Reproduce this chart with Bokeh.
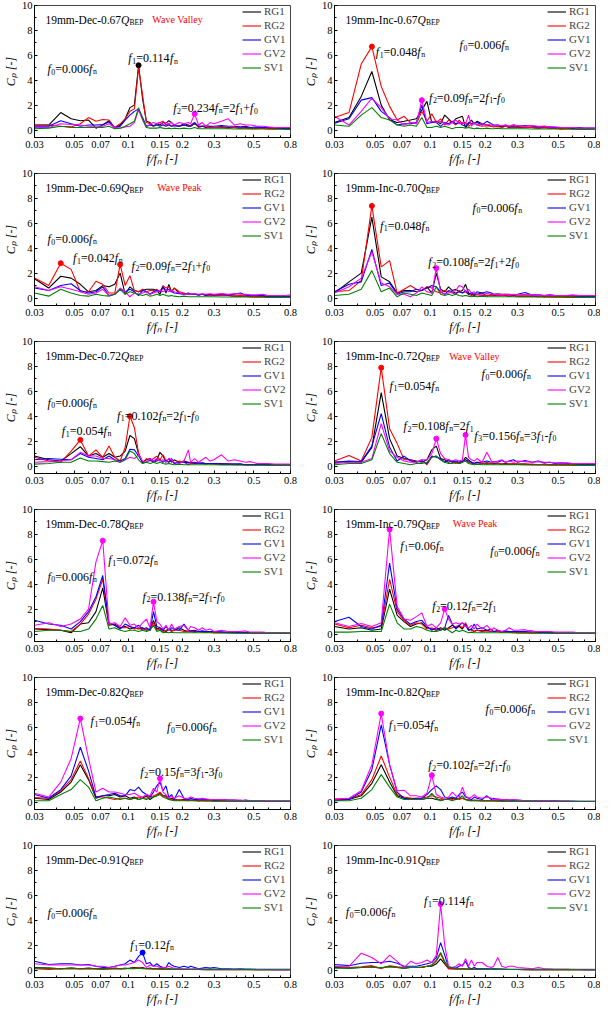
import math

from bokeh.embed import file_html
from bokeh.layouts import gridplot
from bokeh.models import FixedTicker, Label
from bokeh.plotting import figure
from bokeh.resources import INLINE

# frequency grid f/fn (multiples of f0 = 0.006 fn at the low end, coarser in the tail)
FREQ = [0.030, 0.036, 0.042, 0.048, 0.054, 0.060, 0.066,
        0.072, 0.078, 0.084, 0.090, 0.096, 0.102, 0.108,
        0.114, 0.120, 0.126, 0.132, 0.138, 0.144, 0.150,
        0.156, 0.162, 0.168, 0.174, 0.180, 0.192, 0.204,
        0.216, 0.222, 0.234, 0.246, 0.258, 0.270, 0.285,
        0.300, 0.330, 0.360, 0.390, 0.420, 0.450, 0.480,
        0.520, 0.560, 0.600, 0.650, 0.700, 0.750, 0.800]

X_TICKS = [0.03, 0.05, 0.07, 0.1, 0.15, 0.2, 0.3, 0.5, 0.8]
X_TICK_LABELS = ["0.03", "0.05", "0.07", "0.1", "0.15", "0.2", "0.3", "0.5", "0.8"]
X_MINOR = [0.04, 0.06, 0.08, 0.09, 0.125, 0.175, 0.25, 0.35, 0.4, 0.45, 0.6, 0.7]
Y_TICKS = [0, 2, 4, 6, 8, 10]
Y_MINOR = [1, 3, 5, 7, 9]
X_TITLE = "f/f\u2099 [-]"
Y_TITLE = "C\u209a [-]"

PROBES = ["RG1", "RG2", "GV1", "GV2", "SV1"]
COLORS = {"RG1": "#000000", "RG2": "#ff0000", "GV1": "#0000ff", "GV2": "#ff00ff", "SV1": "#008000"}

# 19mm-Dec-0.67
DEC067_RG1 = [0.4, 0.4, 1.4, 0.9, 0.75, 0.8, 0.15,  0.4, 0.75, 0.15, 0.4, 0.9, 1.8, 2.0,  5.2, 2.5, 0.7, 0.6, 0.3, 0.5, 0.4,  0.6, 0.55, 0.75, 0.6, 0.4, 0.3, 0.5,  0.4, 0.3, 0.5, 0.3, 0.3, 0.2, 0.25,  0.2, 0.25, 0.2, 0.2, 0.15, 0.2, 0.15,  0.15, 0.2, 0.15, 0.1, 0.15, 0.1, 0.1]
DEC067_RG2 = [0.4, 0.4, 0.3, 0.25, 0.5, 1.0, 0.7,  0.85, 0.8, 0.2, 0.5, 0.9, 1.5, 1.7,  5.0, 2.8, 0.6, 0.5, 0.3, 0.5, 0.6,  0.7, 0.4, 0.5, 0.3, 0.4, 0.3, 0.4,  0.3, 0.3, 0.6, 0.2, 0.3, 0.25, 0.2,  0.2, 0.2, 0.15, 0.2, 0.15, 0.15, 0.1,  0.1, 0.15, 0.1, 0.1, 0.1, 0.1, 0.1]
DEC067_GV1 = [0.3, 0.3, 0.75, 0.5, 0.3, 0.4, 0.4,  0.45, 0.65, 0.2, 0.3, 0.8, 1.2, 1.5,  1.7, 1.0, 0.3, 0.4, 0.35, 0.4, 0.3,  0.4, 0.3, 0.4, 0.3, 0.35, 0.3, 0.4,  0.3, 0.35, 0.6, 0.3, 0.3, 0.35, 0.3,  0.3, 0.35, 0.3, 0.3, 0.25, 0.3, 0.2,  0.25, 0.2, 0.2, 0.2, 0.15, 0.15, 0.15]
DEC067_GV2 = [0.2, 0.2, 0.5, 0.45, 0.4, 0.3, 0.3,  0.3, 0.5, 0.2, 0.15, 0.25, 0.3, 0.6,  1.6, 0.8, 0.2, 0.5, 0.6, 0.5, 0.6,  0.4, 0.6, 0.5, 0.6, 0.4, 0.6, 0.5,  0.6, 0.5, 1.3, 0.4, 0.6, 0.3, 0.6,  0.5, 0.7, 0.9, 0.4, 0.5, 0.4, 0.4,  0.3, 0.3, 0.25, 0.2, 0.2, 0.2, 0.2]
DEC067_SV1 = [0.1, 0.15, 0.3, 0.2, 0.2, 0.2, 0.2,  0.2, 0.3, 0.1, 0.15, 0.3, 0.5, 0.7,  1.8, 0.9, 0.2, 0.15, 0.15, 0.15, 0.2,  0.15, 0.1, 0.15, 0.1, 0.15, 0.1, 0.15,  0.1, 0.1, 0.2, 0.1, 0.1, 0.1, 0.1,  0.1, 0.1, 0.1, 0.08, 0.08, 0.08, 0.08,  0.08, 0.08, 0.06, 0.06, 0.06, 0.05, 0.05]

# 19mm-Inc-0.67
INC067_RG1 = [0.6, 1.0, 2.7, 4.7, 2.0, 0.8, 0.6,  0.7, 0.8, 0.9, 1.6, 2.3, 0.6, 0.7,  0.5, 1.2, 0.9, 0.6, 0.9, 1.0, 1.1,  0.2, 0.5, 0.8, 0.5, 0.7, 0.5, 0.4,  0.3, 0.3, 0.3, 0.25, 0.3, 0.2, 0.25,  0.2, 0.2, 0.2, 0.15, 0.2, 0.15, 0.15,  0.1, 0.15, 0.1, 0.1, 0.1, 0.1, 0.1]
INC067_RG2 = [1.0, 1.4, 5.3, 6.7, 3.5, 1.9, 0.8,  1.1, 0.6, 0.5, 1.5, 0.7, 1.3, 0.6,  0.9, 0.4, 0.8, 0.6, 0.4, 0.8, 0.5,  0.6, 0.3, 0.5, 0.6, 0.4, 0.3, 0.35,  0.3, 0.25, 0.3, 0.2, 0.3, 0.25, 0.2,  0.25, 0.2, 0.2, 0.15, 0.2, 0.15, 0.15,  0.1, 0.15, 0.1, 0.1, 0.1, 0.1, 0.1]
INC067_GV1 = [0.55, 0.9, 2.4, 2.6, 1.5, 1.0, 0.4,  0.5, 0.5, 0.6, 2.0, 0.5, 0.6, 0.6,  0.3, 0.6, 0.5, 0.7, 0.5, 0.6, 0.4,  0.3, 0.6, 0.5, 0.5, 0.6, 0.4, 0.7,  0.5, 0.4, 0.4, 0.3, 0.4, 0.3, 0.35,  0.3, 0.35, 0.3, 0.25, 0.3, 0.25, 0.2,  0.2, 0.2, 0.15, 0.2, 0.15, 0.15, 0.15]
INC067_GV2 = [1.1, 0.4, 1.5, 2.55, 1.8, 0.9, 0.8,  0.4, 0.6, 0.5, 2.4, 0.6, 0.7, 0.6,  0.7, 0.5, 0.4, 0.6, 0.8, 0.5, 0.6,  0.5, 1.2, 0.3, 0.6, 0.4, 0.5, 0.4,  0.5, 0.3, 0.4, 0.35, 0.4, 0.3, 0.45,  0.35, 0.3, 0.35, 0.3, 0.3, 0.25, 0.25,  0.2, 0.2, 0.2, 0.15, 0.15, 0.15, 0.15]
INC067_SV1 = [0.4, 0.3, 1.2, 1.8, 1.0, 0.8, 0.4,  0.3, 0.4, 0.3, 1.0, 0.2, 0.2, 0.3,  0.2, 0.3, 0.2, 0.1, 0.2, 0.2, 0.2,  0.15, 0.2, 0.15, 0.1, 0.15, 0.1, 0.15,  0.1, 0.1, 0.15, 0.1, 0.1, 0.1, 0.1,  0.1, 0.1, 0.08, 0.08, 0.08, 0.08, 0.08,  0.06, 0.06, 0.06, 0.05, 0.05, 0.05, 0.05]

# 19mm-Dec-0.69
DEC069_RG1 = [1.55, 0.8, 1.75, 1.6, 1.1, 0.5, 0.6,  1.0, 0.9, 1.1, 2.0, 0.3, 0.9, 0.6,  0.5, 0.6, 0.7, 0.7, 0.7, 0.6, 0.3,  0.9, 0.4, 1.1, 0.5, 0.8, 0.4, 0.3,  0.4, 0.3, 0.3, 0.25, 0.3, 0.2, 0.25,  0.2, 0.2, 0.2, 0.15, 0.15, 0.15, 0.15,  0.1, 0.15, 0.1, 0.1, 0.1, 0.1, 0.1]
DEC069_RG2 = [1.6, 1.0, 2.8, 2.3, 0.5, 0.5, 1.35,  1.1, 0.4, 0.4, 2.7, 1.0, 1.8, 0.6,  0.5, 0.7, 0.5, 0.6, 0.6, 0.7, 0.5,  1.0, 0.8, 0.9, 0.5, 0.8, 0.5, 0.4,  0.3, 0.3, 0.35, 0.25, 0.3, 0.25, 0.2,  0.2, 0.2, 0.2, 0.15, 0.2, 0.15, 0.15,  0.1, 0.1, 0.1, 0.1, 0.1, 0.1, 0.1]
DEC069_GV1 = [0.8, 0.6, 1.0, 1.15, 0.6, 0.4, 0.5,  0.9, 0.2, 0.3, 0.7, 0.5, 0.7, 0.5,  0.2, 0.6, 0.5, 0.3, 0.5, 0.6, 0.5,  0.9, 0.6, 0.7, 0.5, 0.4, 0.35, 0.3,  0.35, 0.3, 0.3, 0.25, 0.3, 0.25, 0.3,  0.25, 0.3, 0.25, 0.3, 0.4, 0.25, 0.2,  0.2, 0.2, 0.15, 0.15, 0.15, 0.15, 0.15]
DEC069_GV2 = [0.9, 0.6, 0.9, 0.7, 0.5, 0.3, 0.4,  0.7, 0.2, 0.3, 0.8, 0.5, 0.1, 0.4,  0.3, 0.4, 0.5, 0.3, 0.4, 0.5, 0.6,  0.5, 0.7, 0.5, 0.6, 0.5, 0.4, 0.3,  0.35, 0.3, 0.35, 0.3, 0.35, 0.3, 0.35,  0.3, 0.35, 0.3, 0.35, 0.3, 0.3, 0.25,  0.25, 0.3, 0.2, 0.2, 0.2, 0.2, 0.25]
DEC069_SV1 = [0.4, 0.15, 0.7, 0.4, 0.2, 0.15, 0.3,  0.2, 0.15, 0.3, 0.7, 0.3, 0.5, 0.4,  0.3, 0.2, 0.3, 0.15, 0.2, 0.3, 0.2,  0.3, 0.2, 0.15, 0.2, 0.15, 0.1, 0.15,  0.1, 0.1, 0.1, 0.1, 0.1, 0.1, 0.1,  0.1, 0.08, 0.08, 0.08, 0.08, 0.08, 0.06,  0.06, 0.06, 0.05, 0.05, 0.05, 0.05, 0.05]

# 19mm-Inc-0.70
INC070_RG1 = [0.4, 1.3, 2.0, 6.5, 1.7, 1.3, 0.4,  0.6, 0.6, 0.5, 0.6, 0.9, 0.4, 2.0,  0.7, 0.5, 0.9, 0.6, 0.7, 0.5, 0.6,  1.1, 0.4, 0.3, 0.2, 0.3, 0.4, 0.15,  0.3, 0.2, 0.2, 0.2, 0.2, 0.15, 0.2,  0.15, 0.15, 0.15, 0.1, 0.15, 0.1, 0.1,  0.1, 0.1, 0.1, 0.1, 0.1, 0.08, 0.08]
INC070_RG2 = [0.5, 0.6, 1.4, 7.4, 2.5, 3.0, 0.4,  0.7, 1.0, 0.7, 0.6, 0.9, 0.8, 0.5,  0.4, 0.6, 0.5, 0.4, 0.3, 0.6, 0.4,  0.5, 0.3, 0.2, 0.3, 0.25, 0.2, 0.2,  0.2, 0.25, 0.2, 0.2, 0.2, 0.15, 0.2,  0.15, 0.15, 0.15, 0.15, 0.1, 0.15, 0.1,  0.1, 0.1, 0.1, 0.1, 0.1, 0.1, 0.1]
INC070_GV1 = [0.5, 1.1, 1.3, 3.9, 1.0, 1.2, 0.3,  0.5, 0.5, 0.7, 0.6, 0.8, 1.0, 0.9,  0.5, 0.3, 0.6, 0.5, 0.4, 0.5, 0.4,  0.6, 0.3, 0.4, 0.3, 0.5, 0.4, 0.5,  0.4, 0.3, 0.35, 0.3, 0.3, 0.3, 0.25,  0.3, 0.45, 0.25, 0.25, 0.2, 0.25, 0.2,  0.2, 0.2, 0.2, 0.15, 0.15, 0.15, 0.15]
INC070_GV2 = [0.4, 0.9, 1.6, 3.7, 1.2, 0.9, 0.3,  0.3, 0.1, 0.4, 0.9, 0.5, 0.4, 2.4,  0.5, 0.3, 0.4, 0.5, 0.6, 1.0, 0.9,  0.5, 0.7, 0.4, 0.5, 0.3, 0.3, 0.35,  0.3, 0.3, 0.3, 0.25, 0.3, 0.25, 0.3,  0.25, 0.3, 0.25, 0.25, 0.2, 0.25, 0.2,  0.2, 0.2, 0.25, 0.2, 0.2, 0.2, 0.2]
INC070_SV1 = [0.2, 0.3, 0.7, 2.2, 0.5, 0.8, 0.1,  0.4, 0.3, 0.2, 0.4, 0.3, 0.2, 0.9,  0.3, 0.2, 0.3, 0.2, 0.3, 0.2, 0.15,  0.2, 0.15, 0.1, 0.15, 0.1, 0.15, 0.1,  0.1, 0.1, 0.1, 0.1, 0.1, 0.1, 0.1,  0.08, 0.08, 0.08, 0.08, 0.06, 0.06, 0.06,  0.06, 0.05, 0.05, 0.05, 0.05, 0.05, 0.05]

# 19mm-Dec-0.72
DEC072_RG1 = [0.8, 0.5, 0.4, 1.0, 1.55, 0.8, 1.0,  0.7, 1.0, 0.7, 0.8, 1.2, 2.45, 2.2,  1.0, 0.3, 0.5, 0.6, 0.4, 0.5, 1.1,  0.8, 0.3, 0.6, 0.3, 0.5, 0.3, 0.4,  0.3, 0.25, 0.3, 0.2, 0.25, 0.2, 0.2,  0.2, 0.2, 0.15, 0.15, 0.15, 0.1, 0.1,  0.1, 0.1, 0.1, 0.1, 0.1, 0.1, 0.1]
DEC072_RG2 = [0.7, 0.4, 0.3, 1.2, 2.1, 0.8, 1.3,  0.7, 1.6, 0.7, 0.4, 1.5, 4.0, 3.1,  1.0, 0.2, 0.6, 0.4, 0.6, 0.8, 0.5,  0.9, 0.4, 0.3, 0.5, 0.2, 0.4, 0.3,  0.1, 0.2, 0.25, 0.2, 0.2, 0.15, 0.2,  0.15, 0.15, 0.15, 0.1, 0.1, 0.1, 0.1,  0.1, 0.1, 0.1, 0.1, 0.08, 0.08, 0.08]
DEC072_GV1 = [0.5, 0.6, 0.55, 0.5, 1.0, 0.7, 0.6,  0.5, 0.8, 0.5, 0.4, 0.6, 1.35, 1.3,  0.8, 0.3, 0.3, 0.5, 0.3, 0.4, 0.5,  0.3, 0.5, 0.3, 0.6, 0.2, 0.3, 0.3,  0.25, 0.3, 0.2, 0.25, 0.2, 0.2, 0.2,  0.2, 0.15, 0.15, 0.15, 0.15, 0.1, 0.1,  0.1, 0.1, 0.1, 0.1, 0.1, 0.1, 0.1]
DEC072_GV2 = [0.3, 0.35, 0.4, 0.5, 1.1, 0.8, 0.8,  0.6, 0.6, 0.5, 0.3, 0.5, 0.7, 0.6,  0.9, 0.4, 0.3, 0.6, 0.4, 0.6, 0.4,  0.5, 0.3, 0.6, 0.5, 0.3, 0.2, 0.4,  1.3, 0.3, 0.6, 0.3, 0.5, 0.7, 0.4,  0.5, 0.9, 0.4, 0.5, 0.4, 0.3, 0.35,  0.2, 0.2, 0.2, 0.15, 0.15, 0.15, 0.15]
DEC072_SV1 = [0.15, 0.2, 0.3, 0.3, 0.65, 0.4, 0.4,  0.35, 0.3, 0.4, 0.3, 0.5, 1.2, 1.0,  0.5, 0.2, 0.3, 0.2, 0.3, 0.2, 0.3,  0.2, 0.15, 0.2, 0.15, 0.1, 0.15, 0.1,  0.1, 0.1, 0.1, 0.1, 0.1, 0.1, 0.1,  0.1, 0.08, 0.08, 0.08, 0.08, 0.06, 0.06,  0.06, 0.06, 0.05, 0.05, 0.05, 0.05, 0.05]

# 19mm-Inc-0.72
INC072_RG1 = [0.3, 0.35, 0.3, 1.5, 5.9, 2.2, 0.8,  0.6, 0.5, 0.4, 0.3, 0.5, 1.3, 1.6,  0.6, 0.5, 0.3, 0.4, 0.3, 0.2, 0.3,  0.7, 0.5, 0.3, 0.2, 0.3, 0.2, 0.25,  0.2, 0.2, 0.2, 0.15, 0.2, 0.15, 0.15,  0.15, 0.15, 0.1, 0.1, 0.1, 0.1, 0.1,  0.1, 0.1, 0.1, 0.08, 0.08, 0.08, 0.08]
INC072_RG2 = [0.4, 0.85, 0.4, 2.3, 7.9, 3.0, 1.8,  0.5, 0.5, 0.3, 0.5, 0.1, 0.7, 0.8,  0.5, 0.3, 0.5, 0.3, 0.2, 0.3, 0.4,  0.5, 0.3, 0.2, 0.2, 0.15, 0.2, 0.15,  0.2, 0.15, 0.2, 0.15, 0.15, 0.15, 0.2,  0.15, 0.15, 0.15, 0.1, 0.15, 0.1, 0.1,  0.1, 0.1, 0.1, 0.1, 0.1, 0.1, 0.1]
INC072_GV1 = [0.3, 0.4, 0.35, 1.6, 4.2, 1.5, 0.4,  0.8, 0.4, 0.3, 0.4, 0.2, 0.8, 0.7,  0.6, 0.3, 0.5, 0.3, 0.4, 0.3, 0.4,  0.5, 0.4, 0.3, 0.2, 0.3, 0.3, 0.4,  0.3, 0.35, 0.3, 0.45, 0.3, 0.4, 0.5,  0.3, 0.45, 0.3, 0.4, 0.25, 0.3, 0.2,  0.25, 0.2, 0.2, 0.15, 0.15, 0.15, 0.15]
INC072_GV2 = [0.2, 0.3, 0.3, 0.6, 3.4, 1.2, 0.7,  0.4, 0.3, 0.3, 0.5, 0.5, 1.0, 2.2,  1.0, 0.6, 0.5, 0.4, 0.5, 0.4, 0.5,  2.5, 0.7, 0.5, 0.4, 0.6, 0.3, 1.1,  0.4, 0.3, 0.4, 0.5, 0.3, 0.4, 0.3,  0.4, 0.35, 0.3, 0.35, 0.3, 0.3, 0.25,  0.25, 0.25, 0.2, 0.2, 0.2, 0.2, 0.2]
INC072_SV1 = [0.1, 0.2, 0.2, 0.5, 2.6, 1.0, 0.3,  0.2, 0.1, 0.2, 0.2, 0.3, 0.7, 0.8,  0.5, 0.3, 0.2, 0.2, 0.3, 0.2, 0.3,  0.4, 0.2, 0.15, 0.1, 0.15, 0.1, 0.1,  0.1, 0.1, 0.1, 0.1, 0.1, 0.1, 0.1,  0.1, 0.08, 0.08, 0.08, 0.08, 0.06, 0.06,  0.06, 0.06, 0.05, 0.05, 0.05, 0.05, 0.05]

# 19mm-Dec-0.78
DEC078_RG1 = [0.4, 0.35, 0.3, 0.1, 0.8, 0.9, 1.8,  3.7, 0.7, 0.8, 0.5, 0.6, 0.4, 0.5,  0.4, 0.5, 0.3, 0.4, 1.1, 0.4, 0.5,  0.3, 0.2, 0.4, 0.3, 0.3, 0.5, 0.3,  0.2, 0.25, 0.2, 0.2, 0.2, 0.15, 0.2,  0.15, 0.15, 0.1, 0.1, 0.1, 0.1, 0.1,  0.08, 0.08, 0.08, 0.08, 0.08, 0.05, 0.05]
DEC078_RG2 = [0.45, 0.4, 0.3, 0.2, 0.8, 1.6, 2.8,  4.4, 0.8, 0.7, 0.5, 0.5, 0.6, 0.4,  0.5, 0.3, 0.4, 0.3, 0.9, 0.3, 0.4,  0.2, 0.3, 0.4, 0.2, 0.3, 0.3, 0.2,  0.2, 0.2, 0.15, 0.2, 0.15, 0.15, 0.15,  0.1, 0.1, 0.1, 0.1, 0.1, 0.08, 0.08,  0.08, 0.08, 0.05, 0.05, 0.05, 0.05, 0.05]
DEC078_GV1 = [1.1, 0.8, 0.7, 0.4, 1.0, 1.8, 3.0,  4.7, 0.9, 0.7, 0.4, 0.8, 0.6, 0.5,  0.7, 0.4, 0.5, 0.3, 1.8, 0.6, 0.5,  0.3, 0.6, 0.3, 0.5, 0.4, 0.3, 0.8,  0.3, 0.25, 0.3, 0.2, 0.25, 0.2, 0.2,  0.2, 0.15, 0.15, 0.15, 0.1, 0.1, 0.1,  0.1, 0.1, 0.08, 0.08, 0.08, 0.08, 0.08]
DEC078_GV2 = [0.7, 0.9, 0.6, 0.8, 1.2, 2.0, 5.8,  7.5, 0.8, 0.9, 0.6, 1.3, 0.7, 0.8,  0.5, 0.9, 1.2, 0.5, 2.6, 1.0, 0.8,  0.4, 0.7, 0.3, 0.8, 0.4, 0.6, 0.7,  0.3, 0.6, 0.5, 0.3, 0.5, 0.3, 0.4,  0.2, 0.3, 0.2, 0.2, 0.2, 0.25, 0.15,  0.15, 0.15, 0.1, 0.1, 0.1, 0.1, 0.1]
DEC078_SV1 = [0.2, 0.3, 0.3, 0.2, 0.2, 0.4, 1.2,  2.3, 0.4, 0.5, 0.3, 0.2, 0.3, 0.3,  0.2, 0.3, 0.2, 0.3, 0.7, 0.2, 0.3,  0.1, 0.15, 0.1, 0.15, 0.1, 0.1, 0.1,  0.1, 0.1, 0.1, 0.1, 0.1, 0.1, 0.1,  0.08, 0.08, 0.08, 0.06, 0.06, 0.06, 0.06,  0.05, 0.05, 0.05, 0.05, 0.05, 0.05, 0.05]

# 19mm-Inc-0.79
INC079_RG1 = [0.6, 0.4, 0.5, 0.3, 0.4, 3.6, 1.5,  1.0, 0.6, 0.8, 0.9, 0.5, 0.4, 0.3,  0.5, 0.3, 0.5, 0.7, 0.5, 0.6, 0.4,  0.8, 0.3, 0.4, 0.2, 0.3, 0.25, 0.3,  0.2, 0.2, 0.2, 0.15, 0.2, 0.15, 0.15,  0.1, 0.1, 0.1, 0.1, 0.1, 0.08, 0.08,  0.08, 0.08, 0.05, 0.05, 0.05, 0.05, 0.05]
INC079_RG2 = [0.8, 0.5, 0.7, 0.5, 0.6, 4.4, 1.8,  1.1, 0.7, 0.9, 0.8, 0.4, 0.5, 0.3,  0.4, 0.5, 0.4, 0.5, 0.6, 0.7, 0.5,  0.9, 0.4, 0.3, 0.2, 0.3, 0.2, 0.25,  0.2, 0.2, 0.2, 0.15, 0.15, 0.15, 0.15,  0.1, 0.1, 0.1, 0.1, 0.1, 0.08, 0.08,  0.08, 0.08, 0.05, 0.05, 0.05, 0.05, 0.05]
INC079_GV1 = [1.0, 1.35, 0.6, 0.4, 0.7, 5.7, 2.0,  1.2, 0.8, 1.0, 1.1, 0.6, 0.3, 0.5,  0.3, 0.5, 1.5, 0.8, 0.4, 0.7, 0.9,  0.7, 0.3, 0.4, 0.8, 0.4, 0.5, 0.3,  0.4, 0.2, 0.3, 0.2, 0.25, 0.2, 0.2,  0.2, 0.2, 0.25, 0.15, 0.15, 0.15, 0.1,  0.1, 0.1, 0.1, 0.08, 0.08, 0.08, 0.08]
INC079_GV2 = [0.9, 0.6, 0.85, 0.6, 0.9, 8.4, 2.2,  1.2, 1.1, 1.4, 1.7, 0.6, 0.8, 0.5,  0.9, 2.0, 1.2, 0.8, 0.9, 0.8, 0.9,  0.6, 0.5, 0.7, 0.4, 0.8, 0.4, 0.7,  0.3, 0.5, 0.3, 0.2, 0.3, 0.5, 0.3,  0.3, 0.35, 0.2, 0.2, 0.2, 0.2, 0.15,  0.15, 0.15, 0.15, 0.1, 0.1, 0.1, 0.1]
INC079_SV1 = [0.15, 0.15, 0.2, 0.2, 0.2, 2.4, 0.9,  0.4, 0.4, 0.6, 0.5, 0.3, 0.2, 0.2,  0.3, 0.5, 0.3, 0.1, 0.3, 0.2, 0.3,  0.2, 0.1, 0.15, 0.1, 0.1, 0.1, 0.1,  0.1, 0.1, 0.1, 0.1, 0.1, 0.1, 0.08,  0.08, 0.08, 0.06, 0.06, 0.06, 0.06, 0.05,  0.05, 0.05, 0.05, 0.05, 0.05, 0.05, 0.05]

# 19mm-Dec-0.82
DEC082_RG1 = [0.3, 0.2, 0.8, 1.6, 3.0, 1.8, 0.3,  0.5, 0.5, 0.6, 0.4, 0.5, 0.3, 0.4,  0.2, 0.3, 0.5, 0.2, 0.4, 0.5, 0.7,  0.5, 0.5, 0.2, 0.3, 0.2, 0.15, 0.2,  0.15, 0.15, 0.15, 0.1, 0.15, 0.1, 0.1,  0.1, 0.1, 0.08, 0.08, 0.08, 0.06, 0.06,  0.05, 0.05, 0.05, 0.05, 0.05, 0.05, 0.05]
DEC082_RG2 = [0.35, 0.3, 0.9, 1.8, 3.3, 1.9, 0.4,  0.4, 0.3, 0.2, 0.3, 0.3, 0.2, 0.3,  0.4, 0.3, 0.3, 0.4, 0.5, 0.6, 0.8,  0.5, 0.4, 0.3, 0.2, 0.15, 0.15, 0.15,  0.1, 0.15, 0.1, 0.1, 0.1, 0.1, 0.1,  0.08, 0.08, 0.08, 0.06, 0.06, 0.06, 0.05,  0.05, 0.05, 0.05, 0.05, 0.05, 0.05, 0.05]
DEC082_GV1 = [0.6, 0.3, 1.0, 2.1, 4.4, 2.5, 0.4,  0.5, 0.6, 0.7, 0.5, 0.5, 1.0, 0.9,  1.2, 0.8, 0.6, 0.4, 0.8, 1.3, 1.6,  0.9, 1.3, 0.4, 0.6, 0.2, 1.0, 0.3,  0.2, 0.3, 0.2, 0.2, 0.25, 0.2, 0.2,  0.15, 0.2, 0.15, 0.15, 0.1, 0.15, 0.1,  0.1, 0.1, 0.08, 0.08, 0.08, 0.08, 0.08]
DEC082_GV2 = [0.7, 0.4, 1.6, 3.5, 6.7, 3.5, 0.8,  1.1, 0.8, 0.8, 0.7, 0.6, 0.6, 0.7,  0.5, 0.4, 0.6, 0.5, 1.1, 0.8, 1.9,  0.8, 0.6, 0.3, 0.5, 0.3, 0.5, 0.3,  0.3, 0.4, 0.3, 0.25, 0.3, 0.25, 0.2,  0.2, 0.2, 0.15, 0.15, 0.15, 0.1, 0.1,  0.1, 0.1, 0.1, 0.08, 0.08, 0.08, 0.08]
DEC082_SV1 = [0.1, 0.1, 0.6, 1.0, 1.8, 1.2, 0.1,  0.3, 0.4, 0.3, 0.2, 0.3, 0.2, 0.3,  0.2, 0.3, 0.2, 0.3, 0.4, 0.5, 0.6,  0.4, 0.3, 0.2, 0.15, 0.1, 0.1, 0.1,  0.1, 0.1, 0.1, 0.08, 0.08, 0.08, 0.08,  0.06, 0.06, 0.06, 0.05, 0.05, 0.05, 0.05,  0.05, 0.05, 0.04, 0.04, 0.04, 0.04, 0.04]

# 19mm-Inc-0.82
INC082_RG1 = [0.2, 0.2, 0.5, 1.5, 3.0, 1.6, 0.5,  0.3, 0.3, 0.2, 0.2, 0.3, 0.3, 0.2,  0.15, 0.2, 0.2, 0.3, 0.2, 0.3, 0.3,  0.2, 0.15, 0.1, 0.15, 0.1, 0.1, 0.1,  0.1, 0.1, 0.08, 0.08, 0.08, 0.08, 0.06,  0.06, 0.06, 0.05, 0.05, 0.05, 0.05, 0.05,  0.04, 0.04, 0.04, 0.04, 0.04, 0.04, 0.04]
INC082_RG2 = [0.2, 0.25, 0.6, 1.8, 3.7, 2.0, 0.6,  0.4, 0.3, 0.3, 0.3, 0.4, 0.5, 0.4,  0.3, 0.2, 0.3, 0.2, 0.3, 0.2, 0.3,  0.2, 0.15, 0.15, 0.1, 0.15, 0.1, 0.1,  0.1, 0.1, 0.1, 0.08, 0.08, 0.08, 0.08,  0.06, 0.06, 0.06, 0.05, 0.05, 0.05, 0.05,  0.05, 0.05, 0.04, 0.04, 0.04, 0.04, 0.04]
INC082_GV1 = [0.1, 0.2, 0.8, 2.6, 6.2, 3.0, 0.8,  0.3, 0.2, 0.3, 0.3, 0.6, 1.0, 1.3,  1.0, 0.4, 0.3, 0.4, 0.3, 0.6, 0.8,  0.4, 0.3, 0.2, 0.4, 0.3, 0.2, 0.5,  0.2, 0.3, 0.2, 0.15, 0.2, 0.15, 0.15,  0.15, 0.1, 0.1, 0.1, 0.1, 0.1, 0.1,  0.08, 0.08, 0.08, 0.06, 0.06, 0.06, 0.06]
INC082_GV2 = [0.25, 0.3, 0.9, 3.0, 7.1, 3.0, 0.9,  0.95, 0.5, 0.5, 0.4, 0.7, 2.15, 0.6,  0.4, 0.3, 0.4, 0.8, 0.5, 0.4, 1.2,  0.5, 0.3, 0.4, 0.6, 0.4, 0.3, 0.4,  0.3, 0.2, 0.25, 0.2, 0.2, 0.15, 0.2,  0.15, 0.1, 0.1, 0.1, 0.1, 0.1, 0.08,  0.08, 0.08, 0.06, 0.06, 0.06, 0.06, 0.06]
INC082_SV1 = [0.1, 0.1, 0.3, 1.0, 2.2, 1.2, 0.4,  0.2, 0.2, 0.2, 0.2, 0.3, 0.7, 0.3,  0.1, 0.2, 0.2, 0.1, 0.2, 0.3, 0.5,  0.2, 0.1, 0.1, 0.1, 0.1, 0.08, 0.08,  0.08, 0.08, 0.06, 0.06, 0.06, 0.06, 0.05,  0.05, 0.05, 0.05, 0.04, 0.04, 0.04, 0.04,  0.04, 0.04, 0.04, 0.04, 0.04, 0.04, 0.04]

# 19mm-Dec-0.91
DEC091_RG1 = [0.2, 0.15, 0.1, 0.15, 0.1, 0.15, 0.1,  0.1, 0.1, 0.15, 0.1, 0.1, 0.15, 0.2,  0.15, 0.2, 0.1, 0.15, 0.1, 0.1, 0.1,  0.1, 0.08, 0.1, 0.08, 0.08, 0.08, 0.06,  0.06, 0.06, 0.06, 0.05, 0.05, 0.05, 0.05,  0.05, 0.04, 0.04, 0.04, 0.04, 0.04, 0.04,  0.03, 0.03, 0.03, 0.03, 0.03, 0.03, 0.03]
DEC091_RG2 = [0.1, 0.05, 0.08, 0.1, 0.08, 0.1, 0.08,  0.05, 0.08, 0.1, 0.08, 0.1, 0.12, 0.15,  0.2, 0.15, 0.1, 0.1, 0.08, 0.08, 0.06,  0.06, 0.06, 0.05, 0.05, 0.05, 0.05, 0.04,  0.04, 0.04, 0.04, 0.04, 0.04, 0.03, 0.03,  0.03, 0.03, 0.03, 0.03, 0.03, 0.03, 0.03,  0.02, 0.02, 0.02, 0.02, 0.02, 0.02, 0.02]
DEC091_GV1 = [0.7, 0.45, 0.5, 0.5, 0.4, 0.45, 0.3,  0.2, 0.2, 0.3, 0.4, 0.5, 0.8, 0.6,  1.1, 1.4, 0.5, 0.6, 0.3, 0.5, 0.3,  0.2, 0.2, 0.6, 0.4, 0.3, 0.2, 0.3,  0.2, 0.3, 0.2, 0.1, 0.15, 0.2, 0.15,  0.2, 0.1, 0.1, 0.08, 0.1, 0.08, 0.08,  0.06, 0.06, 0.06, 0.05, 0.05, 0.05, 0.05]
DEC091_GV2 = [0.5, 0.4, 0.4, 0.4, 0.4, 0.4, 0.3,  0.3, 0.2, 0.3, 0.4, 0.4, 0.5, 0.6,  0.8, 0.6, 0.2, 0.4, 0.3, 0.3, 0.2,  0.2, 0.2, 0.3, 0.2, 0.15, 0.1, 0.1,  0.1, 0.08, 0.1, 0.08, 0.08, 0.06, 0.06,  0.06, 0.05, 0.05, 0.05, 0.05, 0.04, 0.04,  0.04, 0.04, 0.04, 0.03, 0.03, 0.03, 0.03]
DEC091_SV1 = [0.15, 0.15, 0.1, 0.15, 0.1, 0.1, 0.1,  0.05, 0.1, 0.1, 0.1, 0.15, 0.1, 0.1,  0.15, 0.1, 0.1, 0.08, 0.08, 0.08, 0.06,  0.06, 0.06, 0.05, 0.05, 0.05, 0.05, 0.04,  0.04, 0.04, 0.04, 0.04, 0.03, 0.03, 0.03,  0.03, 0.03, 0.03, 0.03, 0.03, 0.03, 0.03,  0.02, 0.02, 0.02, 0.02, 0.02, 0.02, 0.02]

# 19mm-Inc-0.91
INC091_RG1 = [0.2, 0.15, 0.2, 0.25, 0.15, 0.3, 0.2,  0.15, 0.2, 0.2, 0.2, 0.3, 0.3, 0.5,  0.9, 0.5, 0.1, 0.1, 0.08, 0.08, 0.08,  0.08, 0.06, 0.06, 0.06, 0.06, 0.05, 0.05,  0.05, 0.05, 0.05, 0.04, 0.04, 0.04, 0.04,  0.04, 0.03, 0.03, 0.03, 0.03, 0.03, 0.03,  0.03, 0.03, 0.02, 0.02, 0.02, 0.02, 0.02]
INC091_RG2 = [0.3, 0.2, 0.25, 0.35, 0.15, 0.35, 0.25,  0.2, 0.2, 0.2, 0.25, 0.3, 0.4, 0.7,  1.3, 0.6, 0.1, 0.08, 0.1, 0.08, 0.1,  0.08, 0.08, 0.06, 0.08, 0.06, 0.06, 0.05,  0.05, 0.05, 0.06, 0.05, 0.04, 0.04, 0.04,  0.04, 0.03, 0.03, 0.03, 0.03, 0.03, 0.03,  0.03, 0.03, 0.02, 0.02, 0.02, 0.02, 0.02]
INC091_GV1 = [0.45, 0.35, 0.55, 0.6, 0.6, 0.7, 0.55,  0.3, 0.3, 0.3, 0.4, 0.5, 0.6, 1.0,  2.2, 1.2, 0.2, 0.2, 0.15, 0.3, 0.4,  0.7, 0.2, 0.1, 0.2, 0.1, 0.1, 0.1,  0.08, 0.1, 0.08, 0.08, 0.08, 0.06, 0.06,  0.06, 0.05, 0.05, 0.05, 0.05, 0.04, 0.04,  0.04, 0.04, 0.04, 0.04, 0.03, 0.03, 0.03]
INC091_GV2 = [0.3, 0.3, 1.35, 1.0, 0.5, 1.2, 0.7,  0.2, 0.7, 0.5, 0.6, 0.8, 0.6, 1.2,  5.3, 2.0, 0.3, 0.2, 0.3, 0.5, 0.3,  0.9, 0.3, 0.8, 0.3, 0.6, 0.6, 0.3,  0.2, 0.3, 1.0, 0.3, 0.2, 0.3, 0.3,  0.2, 0.15, 0.1, 0.2, 0.1, 0.1, 0.08,  0.08, 0.08, 0.06, 0.06, 0.06, 0.05, 0.05]
INC091_SV1 = [0.15, 0.15, 0.2, 0.2, 0.2, 0.25, 0.2,  0.15, 0.2, 0.2, 0.2, 0.3, 0.4, 0.8,  1.4, 0.7, 0.2, 0.2, 0.1, 0.1, 0.1,  0.08, 0.08, 0.08, 0.06, 0.06, 0.06, 0.05,  0.05, 0.05, 0.05, 0.05, 0.04, 0.04, 0.04,  0.04, 0.04, 0.03, 0.03, 0.03, 0.03, 0.03,  0.03, 0.03, 0.03, 0.02, 0.02, 0.02, 0.02]

# title, series, wave note, frequency notes (text, x, y baseline), marked peaks
PANELS = [
    ("19mm-Dec-0.67Q_{BEP}", [DEC067_RG1, DEC067_RG2, DEC067_GV1, DEC067_GV2, DEC067_SV1],
     ("Wave Valley", 0.136, 8.85),
     [("f_0=0.006f_n", 0.0354, 4.9), ("f_1=0.114f_n", 0.1, 5.75), ("f_2=0.234f_n=2f_1+f_0", 0.1776, 1.75)],
     [("RG1", 0.114), ("GV2", 0.234)]),
    ("19mm-Inc-0.67Q_{BEP}", [INC067_RG1, INC067_RG2, INC067_GV1, INC067_GV2, INC067_SV1],
     None,
     [("f_1=0.048f_n", 0.0504, 6.25), ("f_0=0.006f_n", 0.1446, 6.8), ("f_2=0.09f_n=2f_1-f_0", 0.0985, 2.6)],
     [("RG2", 0.048), ("GV2", 0.09)]),
    ("19mm-Dec-0.69Q_{BEP}", [DEC069_RG1, DEC069_RG2, DEC069_GV1, DEC069_GV2, DEC069_SV1],
     ("Wave Peak", 0.1446, 8.9),
     [("f_0=0.006f_n", 0.0354, 4.75), ("f_1=0.042f_n", 0.0492, 3.2), ("f_2=0.09f_n=2f_1+f_0", 0.104, 2.6)],
     [("RG2", 0.042), ("RG2", 0.09)]),
    ("19mm-Inc-0.70Q_{BEP}", [INC070_RG1, INC070_RG2, INC070_GV1, INC070_GV2, INC070_SV1],
     None,
     [("f_0=0.006f_n", 0.1704, 7.25), ("f_1=0.048f_n", 0.0531, 5.8), ("f_2=0.108f_n=2f_1+2f_0", 0.0977, 2.9)],
     [("RG2", 0.048), ("GV2", 0.108)]),
    ("19mm-Dec-0.72Q_{BEP}", [DEC072_RG1, DEC072_RG2, DEC072_GV1, DEC072_GV2, DEC072_SV1],
     None,
     [("f_0=0.006f_n", 0.0354, 5.1), ("f_1=0.054f_n", 0.0426, 2.8), ("f_1=0.102f_n=2f_1-f_0", 0.0863, 4.05)],
     [("RG2", 0.054), ("RG2", 0.102)]),
    ("19mm-Inc-0.72Q_{BEP}", [INC072_RG1, INC072_RG2, INC072_GV1, INC072_GV2, INC072_SV1],
     ("Wave Valley", 0.127, 8.8),
     [("f_0=0.006f_n", 0.1905, 7.4), ("f_1=0.054f_n", 0.06, 6.45), ("f_2=0.108f_n=2f_1", 0.0715, 3.2),
      ("f_3=0.156f_n=3f_1-f_0", 0.1743, 2.45)],
     [("RG2", 0.054), ("GV2", 0.108), ("GV2", 0.156)]),
    ("19mm-Dec-0.78Q_{BEP}", [DEC078_RG1, DEC078_RG2, DEC078_GV1, DEC078_GV2, DEC078_SV1],
     None,
     [("f_0=0.006f_n", 0.0354, 4.6), ("f_1=0.072f_n", 0.0773, 5.95), ("f_2=0.138f_n=2f_1-f_0", 0.12, 3.0)],
     [("GV2", 0.072), ("GV2", 0.138)]),
    ("19mm-Inc-0.79Q_{BEP}", [INC079_RG1, INC079_RG2, INC079_GV1, INC079_GV2, INC079_SV1],
     ("Wave Peak", 0.133, 8.9),
     [("f_1=0.06f_n", 0.0686, 7.1), ("f_0=0.006f_n", 0.2127, 6.65), ("f_2=0.12f_n=2f_1", 0.1026, 2.25)],
     [("GV2", 0.06), ("GV2", 0.12)]),
    ("19mm-Dec-0.82Q_{BEP}", [DEC082_RG1, DEC082_RG2, DEC082_GV1, DEC082_GV2, DEC082_SV1],
     None,
     [("f_1=0.054f_n", 0.0616, 6.5), ("f_0=0.006f_n", 0.1643, 6.0), ("f_2=0.15f_n=3f_1-3f_0", 0.1166, 2.4)],
     [("GV2", 0.054), ("GV2", 0.15)]),
    ("19mm-Inc-0.82Q_{BEP}", [INC082_RG1, INC082_RG2, INC082_GV1, INC082_GV2, INC082_SV1],
     None,
     [("f_0=0.006f_n", 0.2006, 7.45), ("f_1=0.054f_n", 0.0593, 6.15), ("f_2=0.102f_n=2f_1-f_0", 0.0977, 2.95)],
     [("GV2", 0.054), ("GV2", 0.102)]),
    ("19mm-Dec-0.91Q_{BEP}", [DEC091_RG1, DEC091_RG2, DEC091_GV1, DEC091_GV2, DEC091_SV1],
     None,
     [("f_0=0.006f_n", 0.0354, 4.55), ("f_1=0.12f_n", 0.1026, 2.0)],
     [("GV1", 0.12)]),
    ("19mm-Inc-0.91Q_{BEP}", [INC091_RG1, INC091_RG2, INC091_GV1, INC091_GV2, INC091_SV1],
     None,
     [("f_0=0.006f_n", 0.0346, 4.65), ("f_1=0.114f_n", 0.0926, 5.55)],
     [("GV2", 0.114)]),
]

FONT = "Liberation Serif"
# Times-like advance widths (em)
EM = {" ": 0.25, ".": 0.25, "=": 0.564, "+": 0.564, "-": 0.333, "/": 0.278, "[": 0.333, "]": 0.333,
      "m": 0.778, "D": 0.722, "e": 0.444, "c": 0.444, "I": 0.333, "n": 0.5, "p": 0.5,
      "B": 0.667, "E": 0.611, "P": 0.556}
ITALIC = {"f": 0.33, "Q": 0.74}
SUB = 0.65


def tokens(s):
    out, buf, i = [], "", 0
    while i < len(s):
        c = s[i]
        if c == "_" or c in ITALIC:
            if buf:
                out.append((buf, "n"))
                buf = ""
            if c == "_":
                if s[i + 1] == "{":
                    j = s.index("}", i)
                    out.append((s[i + 2:j], "s"))
                    i = j + 1
                else:
                    out.append((s[i + 1], "s"))
                    i += 2
            else:
                out.append((c, "i"))
                i += 1
        else:
            buf += c
            i += 1
    if buf:
        out.append((buf, "n"))
    return out


def run_width(txt, kind, size):
    if kind == "i":
        return ITALIC[txt] * size
    fs = size * SUB if kind == "s" else size
    return sum(EM.get(c, 0.5) for c in txt) * fs


def rich(p, x, y, s, size=12.0, color="black"):
    pos = 0.0
    for txt, kind in tokens(s):
        fs = size * SUB if kind == "s" else size
        shift = -0.22 * size if kind == "s" else 0.0
        p.add_layout(Label(x=x, y=y, text=txt, x_offset=pos, y_offset=shift,
                           text_font=FONT, text_font_size=f"{fs:.1f}px",
                           text_font_style="italic" if kind == "i" else "normal",
                           text_color=color, text_baseline="alphabetic", text_align="left"))
        pos += run_width(txt, kind, size)


def make_panel(title, series, wave, notes, peaks, right):
    for ys in series:
        assert len(ys) == len(FREQ)
    p = figure(width=300, height=168, x_axis_type="log", x_range=(0.03, 0.8), y_range=(-0.6, 10),
               output_backend="svg", toolbar_location=None,
               min_border_left=30 if right else 22, min_border_right=5 if right else 10,
               min_border_top=5, min_border_bottom=31)
    p.grid.visible = False
    p.outline_line_color = "#444444"
    p.background_fill_color = "white"

    for name, ys in zip(PROBES, series):
        p.line(FREQ, ys, line_color=COLORS[name], line_width=1.1, legend_label=name)

    px = [f for _, f in peaks]
    py = [series[PROBES.index(n)][FREQ.index(f)] for n, f in peaks]
    p.scatter(px, py, size=5, color=[COLORS[n] for n, _ in peaks])

    xa = p.xaxis[0]
    xa.ticker = FixedTicker(ticks=X_TICKS, minor_ticks=X_MINOR)
    xa.major_label_overrides = dict(zip(X_TICKS, X_TICK_LABELS))
    ya = p.yaxis[0]
    ya.ticker = FixedTicker(ticks=Y_TICKS, minor_ticks=Y_MINOR)
    xa.axis_label = X_TITLE
    ya.axis_label = Y_TITLE
    for ax in (xa, ya):
        ax.major_label_text_font = FONT
        ax.major_label_text_font_size = "10.5px"
        ax.major_label_text_color = "black"
        ax.axis_label_text_font = FONT
        ax.axis_label_text_font_size = "12px"
        ax.axis_label_text_font_style = "italic"
        ax.axis_label_text_color = "black"
        ax.axis_line_color = "black"
        ax.major_tick_line_color = "black"
        ax.minor_tick_line_color = "black"
        ax.major_tick_in = 3
        ax.major_tick_out = 0
        ax.minor_tick_in = 2
        ax.minor_tick_out = 0
    xa.major_label_standoff = 3
    ya.major_label_standoff = 2
    xa.axis_label_standoff = 1
    ya.axis_label_standoff = 1

    lg = p.legend[0]
    lg.location = "top_right"
    lg.border_line_color = None
    lg.background_fill_alpha = 0
    lg.label_text_font = FONT
    lg.label_text_font_size = "11px"
    lg.glyph_width = 19
    lg.glyph_height = 11
    lg.label_height = 11
    lg.label_width = 26
    lg.label_standoff = 3
    lg.spacing = 2
    lg.padding = 3
    lg.margin = 0

    rich(p, 0.0345, 8.8, title, size=11.5)
    if wave:
        p.add_layout(Label(x=wave[1], y=wave[2], text=wave[0], text_color="#ff0000",
                           text_font=FONT, text_font_size="10px", text_baseline="alphabetic"))
    for s, x, y in notes:
        rich(p, x, y, s, size=12)
    return p


figs = [make_panel(*cfg, right=(i % 2 == 1)) for i, cfg in enumerate(PANELS)]
rows = [figs[i:i + 2] for i in range(0, len(figs), 2)]
grid = gridplot(rows, toolbar_location=None)

open("out.html", "w").write(file_html(grid, INLINE, title="Cp spectra"))
